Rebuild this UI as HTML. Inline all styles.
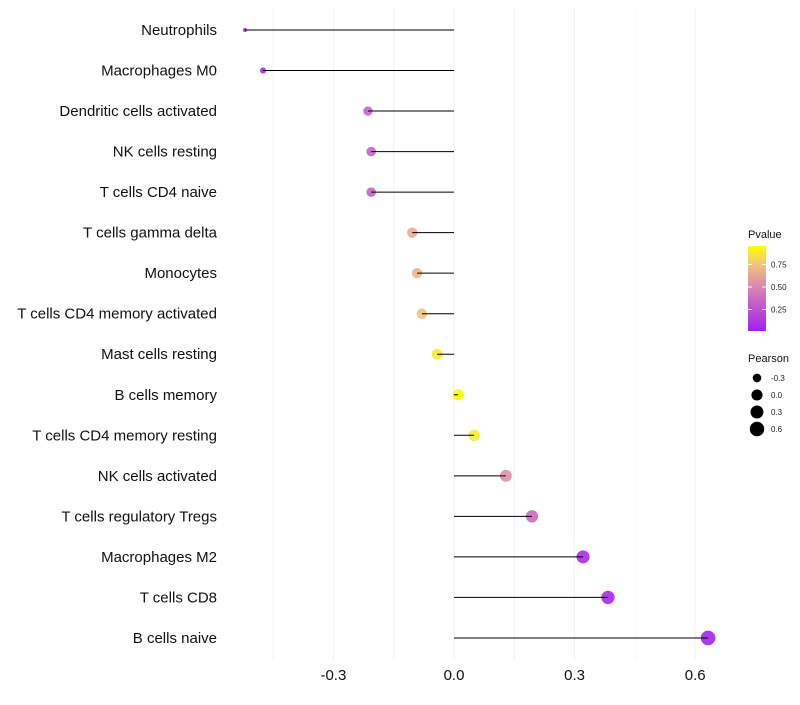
<!DOCTYPE html>
<html><head><meta charset="utf-8"><style>
body{margin:0;background:#fff;font-family:"Liberation Sans",Arial,sans-serif}
</style></head><body>
<svg id="chart" width="800" height="700" xmlns="http://www.w3.org/2000/svg">
<defs><linearGradient id="pg" x1="0" y1="1" x2="0" y2="0">
<stop offset="0" stop-color="#A020F0"/><stop offset="0.5" stop-color="#D882B4"/><stop offset="0.8" stop-color="#F4C87A"/><stop offset="1" stop-color="#FFFF00"/></linearGradient></defs>
<g id="grid"></g><g id="dots"></g><g id="marks"></g><g id="labels"></g><g id="legend"></g>
</svg>
<script>
const categories=["Neutrophils","Macrophages M0","Dendritic cells activated","NK cells resting","T cells CD4 naive","T cells gamma delta","Monocytes","T cells CD4 memory activated","Mast cells resting","B cells memory","T cells CD4 memory resting","NK cells activated","T cells regulatory  Tregs ","Macrophages M2","T cells CD8","B cells naive"];
const pearson=[-0.52,-0.475,-0.214,-0.206,-0.206,-0.104,-0.092,-0.080,-0.042,0.010,0.050,0.129,0.194,0.321,0.383,0.632];
const pvalue=[0.02,0.03,0.35,0.33,0.33,0.68,0.72,0.78,0.92,0.99,0.93,0.55,0.38,0.06,0.05,0.03];
const xTicks=[-0.3,0.0,0.3,0.6];
const xGrid=[-0.45,-0.3,-0.15,0,0.15,0.3,0.45,0.6];
const sizeLegend=[-0.3,0.0,0.3,0.6];
const colorLegend=[0.25,0.5,0.75];
const NS="http://www.w3.org/2000/svg";
const X=v=>454+v*402;
const Y=i=>30+i*40.53;
const R=v=>2+5.3*Math.sqrt(Math.max(0,(v+0.52)/1.152));
function col(p){const s=[[0,[160,32,240]],[0.5,[216,130,180]],[0.8,[244,200,122]],[1,[255,255,0]]];
for(let k=1;k<s.length;k++){if(p<=s[k][0]){const t=(p-s[k-1][0])/(s[k][0]-s[k-1][0]);const a=s[k-1][1],b=s[k][1];return `rgb(${a.map((c,j)=>Math.round(c+(b[j]-c)*t)).join(',')})`;}}return 'rgb(255,255,0)';}
function mk(tag,at,parent,txt){const e=document.createElementNS(NS,tag);for(const k in at)e.setAttribute(k,at[k]);if(txt!==undefined)e.textContent=txt;document.getElementById(parent).appendChild(e);return e;}
xGrid.forEach(v=>{const e=mk('line',{x1:X(v),x2:X(v),y1:8,y2:660,stroke:'#f2f2f2','stroke-width':1},'grid');

});
xTicks.forEach(v=>{const e=mk('text',{x:X(v),y:680,'text-anchor':'middle','font-size':15,fill:'#111'},'labels',v.toFixed(1));

});
categories.forEach((c,i)=>{
const t=mk('text',{x:217,y:Y(i)+5,'text-anchor':'end','font-size':15,fill:'#111'},'labels',c);


const d=mk('circle',{cx:X(pearson[i]),cy:Y(i),r:R(pearson[i]),fill:col(pvalue[i]),'fill-opacity':0.9},'dots');


const l=mk('line',{x1:X(0),x2:X(pearson[i]),y1:Y(i),y2:Y(i),stroke:'#000','stroke-width':1},'marks');


});
const g=mk('text',{x:748,y:238,'font-size':11,fill:'#111'},'legend','Pvalue');


const gb=mk('rect',{x:748,y:246,width:18,height:85,fill:'url(#pg)'},'legend');


colorLegend.forEach(v=>{const yy=332-v*90;
const e=mk('text',{x:771,y:yy+3,'font-size':8,fill:'#222'},'legend',v.toFixed(2));


mk('line',{x1:748,x2:752,y1:yy,y2:yy,stroke:'#fff'},'legend');mk('line',{x1:762,x2:766,y1:yy,y2:yy,stroke:'#fff'},'legend');});
const pt=mk('text',{x:748,y:362,'font-size':11,fill:'#111'},'legend','Pearson');


sizeLegend.forEach((v,i)=>{const yy=378+i*17;
const c=mk('circle',{cx:757,cy:yy,r:R(v),fill:'#000'},'legend');


const e=mk('text',{x:771,y:yy+3,'font-size':8,fill:'#222'},'legend',v.toFixed(1));

});
</script>
</body></html>
